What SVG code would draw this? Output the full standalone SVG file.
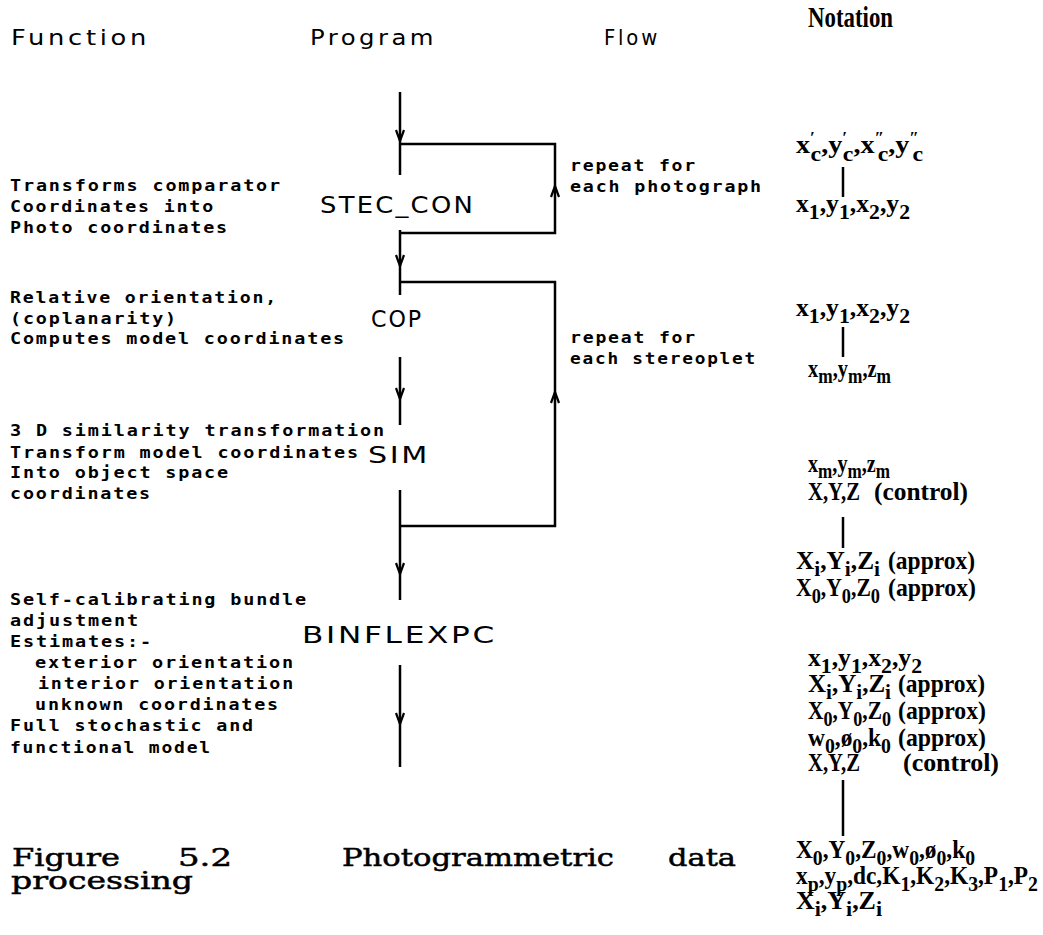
<svg xmlns="http://www.w3.org/2000/svg" xmlns:xlink="http://www.w3.org/1999/xlink" width="1043" height="935" viewBox="0 0 1043 935">
<style>
text{fill:#000}
.hdr{font-family:"DejaVu Sans","Liberation Sans",sans-serif;font-size:21px;letter-spacing:3px}
.prog{font-family:"DejaVu Sans","Liberation Sans",sans-serif;font-size:23px;letter-spacing:2px}
.desc{font-family:"DejaVu Sans Mono","Liberation Mono",monospace;font-size:15px;font-weight:bold;letter-spacing:1.5px}
.nh{font-family:"Liberation Serif","Times New Roman",serif;font-size:29px;font-weight:bold}
.nt{font-family:"Liberation Serif","Times New Roman",serif;font-size:26px;font-weight:bold}
.sb{font-size:22px}
.pr{font-size:16px}
.cap{font-family:"DejaVu Serif","Liberation Serif",serif;font-size:25px;stroke:#000;stroke-width:0.5}
.ln{stroke:#000;stroke-width:2.5;fill:none}
</style>
<defs>
<path id="down" d="M-4,-11 L0,0 L4,-11" stroke="#000" stroke-width="2.2" fill="none"/>
<path id="up" d="M-4,11 L0,0 L4,11" stroke="#000" stroke-width="2.2" fill="none"/>
</defs>

<g id="headers">
<text class="hdr" x="11" y="45" textLength="139" lengthAdjust="spacingAndGlyphs">Function</text>
<text class="hdr" x="310" y="45" textLength="127" lengthAdjust="spacingAndGlyphs">Program</text>
<text class="hdr" x="604" y="45" textLength="56" lengthAdjust="spacingAndGlyphs">Flow</text>
<text class="nh" x="808" y="27" textLength="85" lengthAdjust="spacingAndGlyphs">Notation</text>
</g>

<g id="connectors">
<path class="ln" d="M400,92 V175"/>
<path class="ln" d="M400,144 H555 V233 H400"/>
<path class="ln" d="M400,230 V295"/>
<path class="ln" d="M400,282 H555 V526 H400"/>
<path class="ln" d="M400,357 V425"/>
<path class="ln" d="M400,490 V600"/>
<path class="ln" d="M400,665 V767"/>
<use xlink:href="#down" x="400" y="141"/>
<use xlink:href="#up" x="555" y="186"/>
<use xlink:href="#down" x="400" y="266"/>
<use xlink:href="#up" x="555" y="392"/>
<use xlink:href="#down" x="400" y="399"/>
<use xlink:href="#down" x="400" y="574"/>
<use xlink:href="#down" x="400" y="724"/>
<path class="ln" d="M843,167 V197 M843,327 V357 M843,517 V548 M843,780 V836" stroke-width="2"/>
</g>

<g id="node-stec">
<text class="desc" x="10" y="191" textLength="272" lengthAdjust="spacingAndGlyphs">Transforms comparator</text>
<text class="desc" x="10" y="212" textLength="205" lengthAdjust="spacingAndGlyphs">Coordinates into</text>
<text class="desc" x="10" y="233" textLength="219" lengthAdjust="spacingAndGlyphs">Photo coordinates</text>
<text class="prog" x="320" y="213" textLength="155" lengthAdjust="spacingAndGlyphs">STEC_CON</text>
</g>

<g id="loop-photo">
<text class="desc" x="570" y="171" textLength="127" lengthAdjust="spacingAndGlyphs">repeat for</text>
<text class="desc" x="570" y="192" textLength="193" lengthAdjust="spacingAndGlyphs">each photograph</text>
</g>

<g id="node-cop">
<text class="desc" x="10" y="303" textLength="268" lengthAdjust="spacingAndGlyphs">Relative orientation,</text>
<text class="desc" x="10" y="324" textLength="168" lengthAdjust="spacingAndGlyphs">(coplanarity)</text>
<text class="desc" x="10" y="344" textLength="336" lengthAdjust="spacingAndGlyphs">Computes model coordinates</text>
<text class="prog" x="371" y="327" textLength="52" lengthAdjust="spacingAndGlyphs">COP</text>
</g>

<g id="loop-stereo">
<text class="desc" x="570" y="343" textLength="127" lengthAdjust="spacingAndGlyphs">repeat for</text>
<text class="desc" x="570" y="364" textLength="187" lengthAdjust="spacingAndGlyphs">each stereoplet</text>
</g>

<g id="node-sim">
<text class="desc" x="10" y="436" textLength="376" lengthAdjust="spacingAndGlyphs">3 D similarity transformation</text>
<text class="desc" x="10" y="458" textLength="350" lengthAdjust="spacingAndGlyphs">Transform model coordinates</text>
<text class="desc" x="10" y="478" textLength="220" lengthAdjust="spacingAndGlyphs">Into object space</text>
<text class="desc" x="10" y="499" textLength="142" lengthAdjust="spacingAndGlyphs">coordinates</text>
<text class="prog" x="368" y="463" textLength="62" lengthAdjust="spacingAndGlyphs">SIM</text>
</g>

<g id="node-binflexpc">
<text class="desc" x="10" y="605" textLength="298" lengthAdjust="spacingAndGlyphs">Self-calibrating bundle</text>
<text class="desc" x="10" y="626" textLength="130" lengthAdjust="spacingAndGlyphs">adjustment</text>
<text class="desc" x="10" y="647" textLength="143" lengthAdjust="spacingAndGlyphs">Estimates:-</text>
<text class="desc" x="35" y="668" textLength="260" lengthAdjust="spacingAndGlyphs">exterior orientation</text>
<text class="desc" x="38" y="689" textLength="257" lengthAdjust="spacingAndGlyphs">interior orientation</text>
<text class="desc" x="35" y="710" textLength="245" lengthAdjust="spacingAndGlyphs">unknown coordinates</text>
<text class="desc" x="10" y="731" textLength="245" lengthAdjust="spacingAndGlyphs">Full stochastic and</text>
<text class="desc" x="10" y="753" textLength="202" lengthAdjust="spacingAndGlyphs">functional model</text>
<text class="prog" x="302" y="643" textLength="195" lengthAdjust="spacingAndGlyphs">BINFLEXPC</text>
</g>

<g id="notation">
<text class="nt" x="796" y="153" textLength="127" lengthAdjust="spacingAndGlyphs">x<tspan class="pr" y="143">′</tspan><tspan class="sb" y="161" dx="-4">c</tspan><tspan y="153">,y</tspan><tspan class="pr" y="143">′</tspan><tspan class="sb" y="161" dx="-4">c</tspan><tspan y="153">,x</tspan><tspan class="pr" y="143">″</tspan><tspan class="sb" y="161" dx="-6">c</tspan><tspan y="153">,y</tspan><tspan class="pr" y="143">″</tspan><tspan class="sb" y="161" dx="-6">c</tspan></text>
<text class="nt" x="796" y="212" textLength="114" lengthAdjust="spacingAndGlyphs">x<tspan class="sb" y="219">1</tspan><tspan y="212">,y</tspan><tspan class="sb" y="219">1</tspan><tspan y="212">,x</tspan><tspan class="sb" y="219">2</tspan><tspan y="212">,y</tspan><tspan class="sb" y="219">2</tspan></text>

<text class="nt" x="796" y="316" textLength="114" lengthAdjust="spacingAndGlyphs">x<tspan class="sb" y="323">1</tspan><tspan y="316">,y</tspan><tspan class="sb" y="323">1</tspan><tspan y="316">,x</tspan><tspan class="sb" y="323">2</tspan><tspan y="316">,y</tspan><tspan class="sb" y="323">2</tspan></text>
<text class="nt" x="808" y="377" textLength="83" lengthAdjust="spacingAndGlyphs">x<tspan class="sb" y="383">m</tspan><tspan y="377">,y</tspan><tspan class="sb" y="383">m</tspan><tspan y="377">,z</tspan><tspan class="sb" y="383">m</tspan></text>

<text class="nt" x="808" y="472" textLength="82" lengthAdjust="spacingAndGlyphs">x<tspan class="sb" y="478">m</tspan><tspan y="472">,y</tspan><tspan class="sb" y="478">m</tspan><tspan y="472">,z</tspan><tspan class="sb" y="478">m</tspan></text>
<text class="nt" x="808" y="500" textLength="52" lengthAdjust="spacingAndGlyphs">X,Y,Z</text>
<text class="nt" x="874" y="500" textLength="94" lengthAdjust="spacingAndGlyphs">(control)</text>

<text class="nt" x="796" y="569" textLength="84" lengthAdjust="spacingAndGlyphs">X<tspan class="sb" y="576">i</tspan><tspan y="569">,Y</tspan><tspan class="sb" y="576">i</tspan><tspan y="569">,Z</tspan><tspan class="sb" y="576">i</tspan></text>
<text class="nt" x="888" y="569" textLength="87" lengthAdjust="spacingAndGlyphs">(approx)</text>
<text class="nt" x="796" y="596" textLength="84" lengthAdjust="spacingAndGlyphs">X<tspan class="sb" y="603">0</tspan><tspan y="596">,Y</tspan><tspan class="sb" y="603">0</tspan><tspan y="596">,Z</tspan><tspan class="sb" y="603">0</tspan></text>
<text class="nt" x="888" y="596" textLength="88" lengthAdjust="spacingAndGlyphs">(approx)</text>

<text class="nt" x="808" y="666" textLength="114" lengthAdjust="spacingAndGlyphs">x<tspan class="sb" y="673">1</tspan><tspan y="666">,y</tspan><tspan class="sb" y="673">1</tspan><tspan y="666">,x</tspan><tspan class="sb" y="673">2</tspan><tspan y="666">,y</tspan><tspan class="sb" y="673">2</tspan></text>
<text class="nt" x="808" y="692" textLength="83" lengthAdjust="spacingAndGlyphs">X<tspan class="sb" y="699">i</tspan><tspan y="692">,Y</tspan><tspan class="sb" y="699">i</tspan><tspan y="692">,Z</tspan><tspan class="sb" y="699">i</tspan></text>
<text class="nt" x="898" y="692" textLength="87" lengthAdjust="spacingAndGlyphs">(approx)</text>
<text class="nt" x="808" y="719" textLength="83" lengthAdjust="spacingAndGlyphs">X<tspan class="sb" y="726">0</tspan><tspan y="719">,Y</tspan><tspan class="sb" y="726">0</tspan><tspan y="719">,Z</tspan><tspan class="sb" y="726">0</tspan></text>
<text class="nt" x="898" y="719" textLength="88" lengthAdjust="spacingAndGlyphs">(approx)</text>
<text class="nt" x="808" y="746" textLength="83" lengthAdjust="spacingAndGlyphs">w<tspan class="sb" y="753">0</tspan><tspan y="746">,ø</tspan><tspan class="sb" y="753">0</tspan><tspan y="746">,k</tspan><tspan class="sb" y="753">0</tspan></text>
<text class="nt" x="898" y="746" textLength="88" lengthAdjust="spacingAndGlyphs">(approx)</text>
<text class="nt" x="808" y="771" textLength="52" lengthAdjust="spacingAndGlyphs">X,Y,Z</text>
<text class="nt" x="903" y="771" textLength="96" lengthAdjust="spacingAndGlyphs">(control)</text>

<text class="nt" x="796" y="858" textLength="179" lengthAdjust="spacingAndGlyphs">X<tspan class="sb" y="865">0</tspan><tspan y="858">,Y</tspan><tspan class="sb" y="865">0</tspan><tspan y="858">,Z</tspan><tspan class="sb" y="865">0</tspan><tspan y="858">,w</tspan><tspan class="sb" y="865">0</tspan><tspan y="858">,ø</tspan><tspan class="sb" y="865">0</tspan><tspan y="858">,k</tspan><tspan class="sb" y="865">0</tspan></text>
<text class="nt" x="796" y="884" textLength="242" lengthAdjust="spacingAndGlyphs">x<tspan class="sb" y="891">p</tspan><tspan y="884">,y</tspan><tspan class="sb" y="891">p</tspan><tspan y="884">,dc,K</tspan><tspan class="sb" y="891">1</tspan><tspan y="884">,K</tspan><tspan class="sb" y="891">2</tspan><tspan y="884">,K</tspan><tspan class="sb" y="891">3</tspan><tspan y="884">,P</tspan><tspan class="sb" y="891">1</tspan><tspan y="884">,P</tspan><tspan class="sb" y="891">2</tspan></text>
<text class="nt" x="796" y="909" textLength="86" lengthAdjust="spacingAndGlyphs">X<tspan class="sb" y="916">i</tspan><tspan y="909">,Y</tspan><tspan class="sb" y="916">i</tspan><tspan y="909">,Z</tspan><tspan class="sb" y="916">i</tspan></text>
</g>

<g id="caption">
<text class="cap" x="12" y="866" textLength="108" lengthAdjust="spacingAndGlyphs">Figure</text>
<text class="cap" x="178" y="866" textLength="54" lengthAdjust="spacingAndGlyphs">5.2</text>
<text class="cap" x="342" y="866" textLength="272" lengthAdjust="spacingAndGlyphs">Photogrammetric</text>
<text class="cap" x="668" y="866" textLength="68" lengthAdjust="spacingAndGlyphs">data</text>
<text class="cap" x="11" y="889" textLength="182" lengthAdjust="spacingAndGlyphs">processing</text>
</g>
</svg>
